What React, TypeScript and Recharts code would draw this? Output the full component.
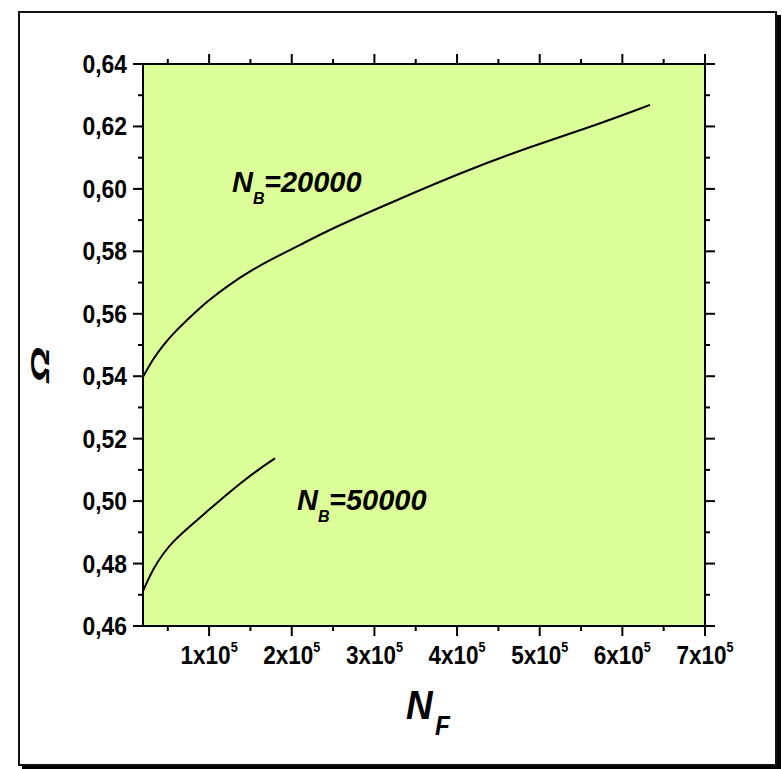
import React from 'react';
import { LineChart, Line, XAxis, YAxis, CartesianGrid, ReferenceDot } from 'recharts';

const nf20000 = [20000, 32500, 44600, 56700, 76900, 97100, 125300, 149500, 177700, 210000, 246300, 327000, 407600, 488300, 569000, 633500];
const omega20000 = [0.5398, 0.5457, 0.55, 0.5537, 0.5589, 0.5639, 0.5695, 0.5737, 0.5778, 0.582, 0.5871, 0.5964, 0.6055, 0.6135, 0.6205, 0.6269];
const nf50000 = [20000, 32500, 44600, 56700, 76900, 97100, 117200, 137400, 157600, 179700];
const omega50000 = [0.4712, 0.4785, 0.4833, 0.4872, 0.492, 0.4966, 0.5012, 0.5056, 0.5097, 0.5137];

const xTicks = [50000, 100000, 150000, 200000, 250000, 300000, 350000, 400000, 450000, 500000, 550000, 600000, 650000, 700000];
const yTicks = [0.46, 0.47, 0.48, 0.49, 0.5, 0.51, 0.52, 0.53, 0.54, 0.55, 0.56, 0.57, 0.58, 0.59, 0.6, 0.61, 0.62, 0.63, 0.64];
const xDomain = [20000, 700000];
const yDomain = [0.46, 0.64];

const curveLabelNB = ['20000', '50000'];
const curveLabelNF = [127700, 206300];
const curveLabelOmega = [0.599, 0.4971];

const series20000 = nf20000.map((x, i) => ({ x, y: omega20000[i] }));
const series50000 = nf50000.map((x, i) => ({ x, y: omega50000[i] }));

const FONT = '"Liberation Sans", Arial, Helvetica, sans-serif';
const BG = '#DDFF99';

const isMajorX = (v: number) => v % 100000 === 0;
const isMajorY = (v: number) => Math.round(v * 100) % 2 === 0;

function BottomTick(p: any) {
  const { x, y, payload } = p;
  const v = payload.value;
  const major = isMajorX(v);
  return (
    <g>
      <line x1={x} x2={x} y1={y} y2={y + (major ? 10 : 5)} stroke="#000" strokeWidth={2} />
      {major && (
        <g transform={`translate(${x},${y + 38}) scale(0.9,1)`}>
          <text x={0} y={0} textAnchor="middle" fontFamily={FONT} fontWeight="bold" fontSize={25} fill="#000">
            <tspan>{`${v / 100000}x10`}</tspan>
            <tspan dy={-12} fontSize={14}>5</tspan>
          </text>
        </g>
      )}
    </g>
  );
}

function TopTick(p: any) {
  const { x, y, payload } = p;
  const major = isMajorX(payload.value);
  return <line x1={x} x2={x} y1={y} y2={y - (major ? 10 : 5)} stroke="#000" strokeWidth={2} />;
}

function LeftTick(p: any) {
  const { x, y, payload } = p;
  const v = payload.value;
  const major = isMajorY(v);
  return (
    <g>
      <line x1={x} x2={x - (major ? 10 : 5)} y1={y} y2={y} stroke="#000" strokeWidth={2} />
      {major && (
        <g transform={`translate(${x - 16},${y + 9}) scale(0.88,1)`}>
          <text x={0} y={0} textAnchor="end" fontFamily={FONT} fontWeight="bold" fontSize={26} fill="#000">
            {v.toFixed(2).replace('.', ',')}
          </text>
        </g>
      )}
    </g>
  );
}

function RightTick(p: any) {
  const { x, y, payload } = p;
  const major = isMajorY(payload.value);
  return <line x1={x} x2={x + (major ? 10 : 5)} y1={y} y2={y} stroke="#000" strokeWidth={2} />;
}

function CurveLabel(nb: string) {
  return (p: any) => {
    const { cx, cy } = p;
    return (
      <g fontFamily={FONT} fontWeight="bold" fontStyle="italic" fill="#000">
        <text x={cx} y={cy} fontSize={29}>N</text>
        <text x={cx + 21} y={cy + 12} fontSize={16}>B</text>
        <text x={cx + 32} y={cy} fontSize={29}>{`=${nb}`}</text>
      </g>
    );
  };
}

function XLabel(p: any) {
  const vb = p.viewBox || { x: 143, width: 562, y: 626 };
  const cx = vb.x + vb.width / 2;
  return (
    <g fontFamily={FONT} fontWeight="bold" fontStyle="italic" fill="#000">
      <g transform={`translate(${cx - 18},${719}) scale(0.9,1)`}>
        <text x={0} y={0} fontSize={41}>N</text>
      </g>
      <g transform={`translate(${cx + 11},${735}) scale(0.9,1)`}>
        <text x={0} y={0} fontSize={27}>F</text>
      </g>
    </g>
  );
}

function YLabel() {
  return (
    <g transform={`translate(49,365) rotate(-90) scale(1,0.55)`}>
      <text x={0} y={0} textAnchor="middle" fontFamily={FONT} fontWeight="bold" fontStyle="italic" fontSize={46} fill="#000">
        Ω
      </text>
    </g>
  );
}

export default function App() {
  return (
    <div style={{ position: 'absolute', left: 0, top: 0, width: 782, height: 769, background: '#fff' }}>
      <div
        style={{
          position: 'absolute',
          left: 18,
          top: 11,
          width: 759,
          height: 755,
          boxSizing: 'border-box',
          border: '2px solid #111',
          boxShadow: '4px 4px 0 #000',
          background: '#fff',
        }}
      />
      <div style={{ position: 'absolute', left: 0, top: 0 }}>
        <LineChart width={782} height={769} margin={{ top: 44, right: 57, bottom: 63, left: 0 }}>
          <CartesianGrid fill={BG} horizontal={false} vertical={false} stroke="none" />
          <XAxis
            xAxisId={0}
            dataKey="x"
            type="number"
            domain={xDomain}
            ticks={xTicks}
            interval={0}
            allowDataOverflow
            orientation="bottom"
            height={80}
            tickSize={0}
            tickMargin={0}
            tickLine={false}
            axisLine={{ stroke: '#000', strokeWidth: 2 }}
            tick={(p: any) => <BottomTick {...p} />}
            label={{ content: (p: any) => <XLabel {...p} /> }}
          />
          <XAxis
            xAxisId="top"
            dataKey="x"
            type="number"
            domain={xDomain}
            ticks={xTicks}
            interval={0}
            allowDataOverflow
            orientation="top"
            height={20}
            tickSize={0}
            tickMargin={0}
            tickLine={false}
            axisLine={{ stroke: '#000', strokeWidth: 2 }}
            tick={(p: any) => <TopTick {...p} />}
          />
          <YAxis
            yAxisId={0}
            type="number"
            domain={yDomain}
            ticks={yTicks}
            interval={0}
            allowDataOverflow
            orientation="left"
            width={143}
            tickSize={0}
            tickMargin={0}
            tickLine={false}
            axisLine={{ stroke: '#000', strokeWidth: 2 }}
            tick={(p: any) => <LeftTick {...p} />}
            label={{ content: () => <YLabel /> }}
          />
          <YAxis
            yAxisId="right"
            type="number"
            domain={yDomain}
            ticks={yTicks}
            interval={0}
            allowDataOverflow
            orientation="right"
            width={20}
            tickSize={0}
            tickMargin={0}
            tickLine={false}
            axisLine={{ stroke: '#000', strokeWidth: 2 }}
            tick={(p: any) => <RightTick {...p} />}
          />
          <Line
            data={series20000}
            dataKey="y"
            type="basis"
            stroke="#000"
            strokeWidth={2}
            dot={false}
            activeDot={false}
            isAnimationActive={false}
          />
          <Line
            data={series50000}
            dataKey="y"
            type="basis"
            stroke="#000"
            strokeWidth={2}
            dot={false}
            activeDot={false}
            isAnimationActive={false}
          />
          {curveLabelNB.map((nb, i) => (
            <ReferenceDot
              key={nb}
              x={curveLabelNF[i]}
              y={curveLabelOmega[i]}
              r={0}
              ifOverflow="visible"
              shape={CurveLabel(nb)}
            />
          ))}
        </LineChart>
      </div>
    </div>
  );
}
